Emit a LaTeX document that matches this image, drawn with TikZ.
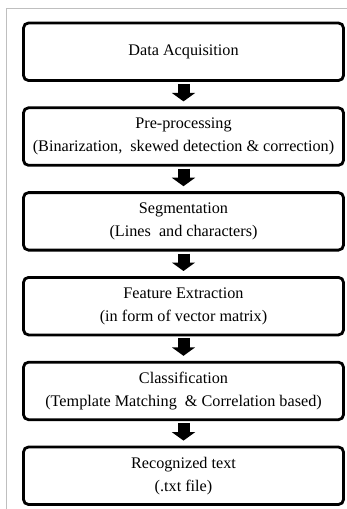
\documentclass[tikz,border=0pt]{standalone}
\usepackage{fontspec}
\setmainfont{Liberation Serif}
\usetikzlibrary{arrows.meta}
\begin{document}
\begin{tikzpicture}[x=1pt,y=-1pt,
  stage/.style={draw=black, line width=2.8pt, rounded corners=5pt, minimum width=320pt, minimum height=57.5pt, align=center, inner sep=0pt, font=\fontsize{16.2}{23}\selectfont, fill=white},
  flow/.style={line width=12pt, -{Triangle[width=23pt,length=8.5pt]}}]
\useasboundingbox (0,0) rectangle (347,509);
\draw[gray!50, line width=1pt] (347,8) -- (6.5,8) -- (6.5,509);
\node[stage] (s1) at (183.5,51.75) {Data Acquisition};
\node[stage] (s2) at (183.5,136.55) {Pre-processing\\(Binarization,\ \ skewed detection \& correction)};
\node[stage] (s3) at (183.5,221.35) {Segmentation\\(Lines\ \ and characters)};
\node[stage] (s4) at (183.5,306.15) {Feature Extraction\\(in form of vector matrix)};
\node[stage] (s5) at (183.5,390.95) {Classification\\(Template Matching\ \ \& Correlation based)};
\node[stage] (s6) at (183.5,475.75) {Recognized text\\(.txt file)};
\foreach \a/\b in {s1/s2,s2/s3,s3/s4,s4/s5,s5/s6}
  \draw[flow] ([yshift=-2pt]\a.south) -- ([yshift=5pt]\b.north);
\end{tikzpicture}
\end{document}
